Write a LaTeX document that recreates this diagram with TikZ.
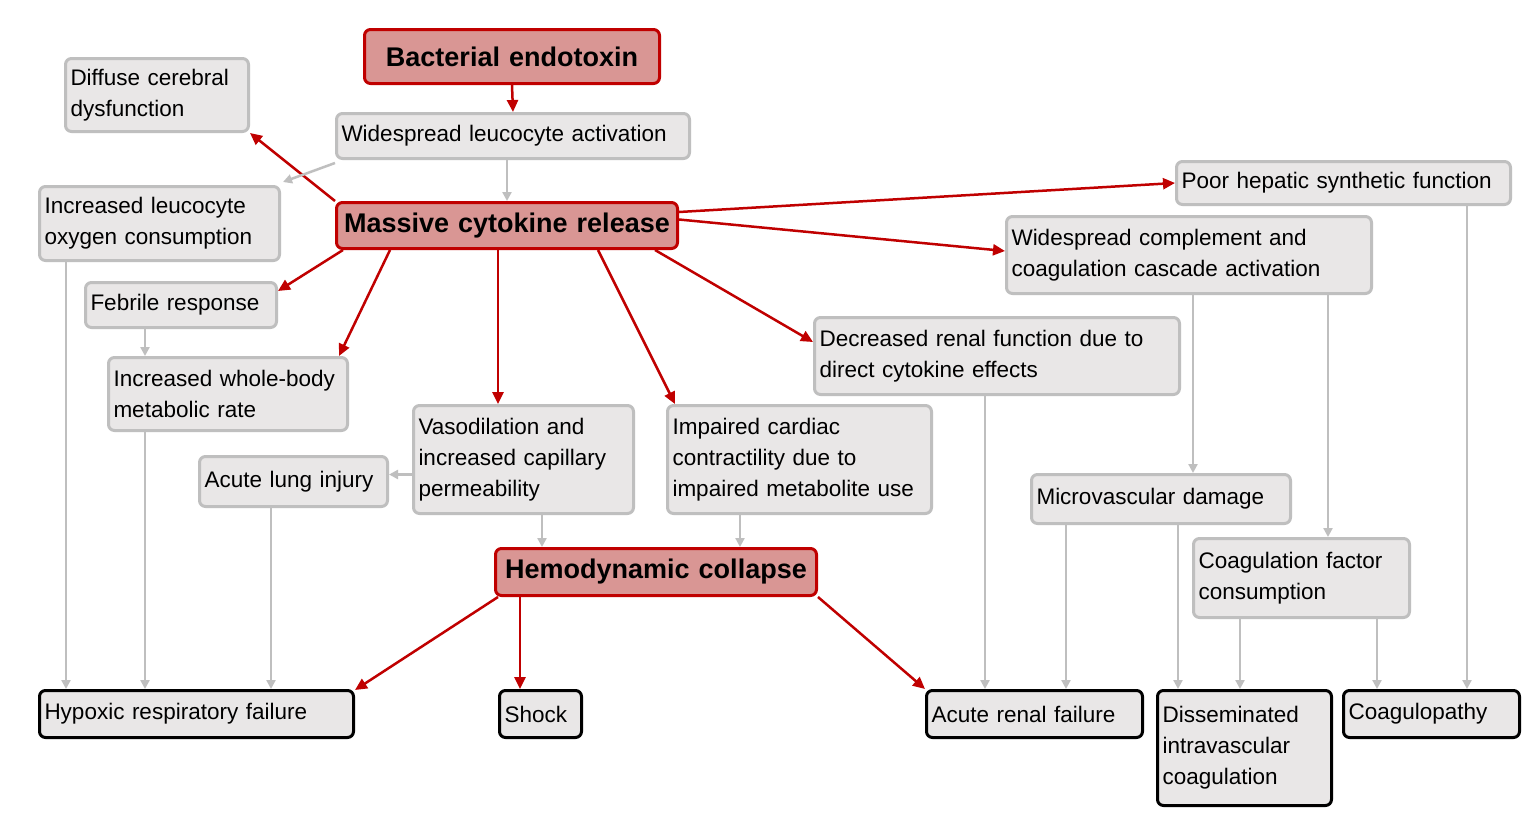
\documentclass[tikz,border=0pt]{standalone}
\usepackage{fontspec}
\setmainfont{Liberation Sans}
\usetikzlibrary{arrows.meta}
\definecolor{rb}{HTML}{C00000}
\definecolor{rf}{HTML}{D99694}
\definecolor{gb}{HTML}{BFBFBF}
\definecolor{gf}{HTML}{E9E7E7}
\begin{document}
\begin{tikzpicture}[x=1pt,y=-1pt,
 box/.style={draw=gb,fill=gf,line width=3pt,rounded corners=6pt,anchor=north west,align=left,inner sep=5pt,font=\fontsize{22.5}{31}\selectfont},
 red/.style={box,draw=rb,fill=rf,align=center,font=\fontsize{27}{31}\selectfont\bfseries},
 blk/.style={box,draw=black,fill=gf},
 ra/.style={draw=rb,line width=2.5pt,-{Triangle[length=12pt,width=11pt]}},
 ga/.style={draw=gb,line width=2.5pt,-{Triangle[length=9pt,width=9pt]}}]
\path[use as bounding box,fill=white] (0,0) rectangle (1524,814);
\newcommand\bx[7]{\node[#1,minimum width=#5pt,minimum height=#6pt,text width={#5pt-10pt}] (#2) at (#3,#4) {#7};}
\bx{red}{endo}{363}{28}{295}{54}{Bacterial endotoxin}
\bx{box}{act}{335}{112}{353}{45}{Widespread leucocyte activation}
\bx{box}{cer}{64}{57}{183}{73}{Diffuse cerebral\\dysfunction}
\bx{box}{oxy}{38}{185}{240}{74}{Increased leucocyte\\oxygen consumption}
\bx{red}{cyt}{335}{201}{341}{46}{Massive cytokine release}
\bx{box}{hep}{1175}{160}{334}{43}{Poor hepatic synthetic function}
\bx{box}{comp}{1005}{215}{365}{77}{Widespread complement and\\coagulation cascade activation}
\bx{box}{feb}{84}{281}{191}{45}{Febrile response}
\bx{box}{meta}{107}{356}{239}{73}{Increased whole-body\\metabolic rate}
\bx{box}{ren}{813}{316}{365}{77}{Decreased renal function due to\\direct cytokine effects}
\bx{box}{vaso}{412}{404}{220}{108}{Vasodilation and\\increased capillary\\permeability}
\bx{box}{card}{666}{404}{264}{108}{Impaired cardiac\\contractility due to\\impaired metabolite use}
\bx{box}{lung}{198}{455}{188}{50}{Acute lung injury}
\bx{box}{micro}{1030}{473}{259}{49}{Microvascular damage}
\bx{red}{hemo}{494}{547}{321}{47}{Hemodynamic collapse}
\bx{box}{coag}{1192}{537}{216}{79}{Coagulation factor\\consumption}
\bx{blk}{hyp}{38}{689}{314}{47}{Hypoxic respiratory failure}
\bx{blk}{shock}{498}{689}{82}{47}{Shock}
\bx{blk}{arf}{925}{689}{216}{47}{Acute renal failure}
\bx{blk}{dic}{1156}{689}{174}{115}{Disseminated\\intravascular\\coagulation}
\bx{blk}{cop}{1342}{689}{176}{47}{Coagulopathy}
% red arrows
\draw[ra] (endo.south) -- (act.north);
\draw[ra] (cyt.north west) -- (cer.south east);
\draw[ra] ([yshift=-11pt]cyt.north east) -- (hep.west);
\draw[ra] ([yshift=6pt]cyt.east) -- ([yshift=4pt]comp.west);
\draw[ra] ([xshift=8pt]cyt.south west) -- ([yshift=-10pt]feb.north east);
\draw[ra] ([xshift=55pt]cyt.south west) -- ([xshift=-10pt]meta.north east);
\draw[ra] ([xshift=163pt]cyt.south west) -- ([xshift=86pt]vaso.north west);
\draw[ra] ([xshift=263pt]cyt.south west) -- ([xshift=9pt]card.north west);
\draw[ra] ([xshift=-24pt]cyt.south east) -- ([yshift=-26pt]ren.north west);
\draw[ra] ([xshift=4pt]hemo.south west) -- ([yshift=-1pt]hyp.north east);
\draw[ra] ([xshift=26pt]hemo.south west) -- ([xshift=22pt]shock.north west);
\draw[ra] (hemo.south east) -- (arf.north west);
% grey arrows
\draw[ga] (act.south -| cyt.north) -- (cyt.north);
\draw[ga] ([yshift=-3pt]act.south west) -- ([xshift=2pt,yshift=3pt]oxy.north east);
\draw[ga] ([xshift=28pt]oxy.south west) -- ([xshift=28pt]hyp.north west);
\draw[ga] ([xshift=61pt]feb.south west) -- ([xshift=38pt]meta.north west);
\draw[ga] ([xshift=38pt]meta.south west) -- ([xshift=107pt]hyp.north west);
\coordinate (lp) at ([yshift=7pt]lung.east);
\draw[ga] (lp -| vaso.west) -- (lp);
\draw[ga] ([xshift=73pt]lung.south west) -- ([xshift=233pt]hyp.north west);
\draw[ga] ([xshift=130pt]vaso.south west) -- ([xshift=48pt]hemo.north west);
\draw[ga] ([xshift=74pt]card.south west) -- ([xshift=246pt]hemo.north west);
\draw[ga] ([xshift=172pt]ren.south west) -- ([xshift=60pt]arf.north west);
\draw[ga] ([xshift=188pt]comp.south west) -- ([xshift=163pt]micro.north west);
\draw[ga] ([xshift=323pt]comp.south west) -- ([xshift=136pt]coag.north west);
\draw[ga] ([xshift=36pt]micro.south west) -- ([xshift=141pt]arf.north west);
\draw[ga] ([xshift=148pt]micro.south west) -- ([xshift=22pt]dic.north west);
\draw[ga] ([xshift=48pt]coag.south west) -- ([xshift=84pt]dic.north west);
\draw[ga] ([xshift=185pt]coag.south west) -- ([xshift=35pt]cop.north west);
\draw[ga] ([xshift=292pt]hep.south west) -- ([xshift=125pt]cop.north west);
\end{tikzpicture}
\end{document}
